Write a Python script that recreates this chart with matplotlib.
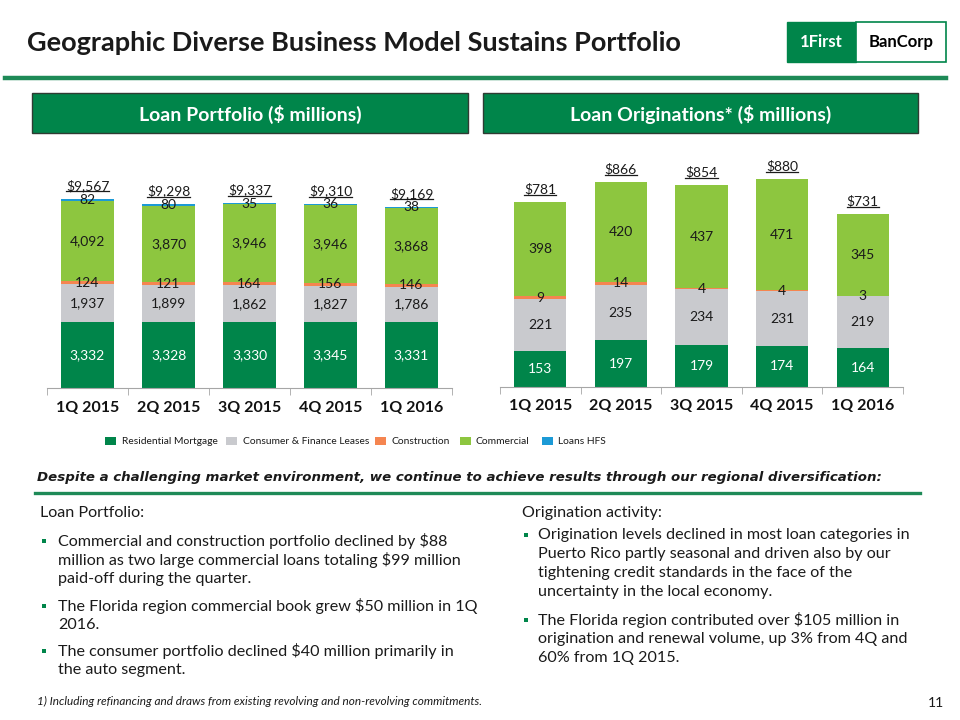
import matplotlib
matplotlib.use("Agg")
import matplotlib.pyplot as plt
from matplotlib.patches import Rectangle
from matplotlib.lines import Line2D

# ---------------- data ----------------
quarters = ["1Q 2015", "2Q 2015", "3Q 2015", "4Q 2015", "1Q 2016"]
series_names = ["Residential Mortgage", "Consumer & Finance Leases", "Construction", "Commercial", "Loans HFS"]

portfolio_residential = [3332, 3328, 3330, 3345, 3331]
portfolio_consumer = [1937, 1899, 1862, 1827, 1786]
portfolio_construction = [124, 121, 164, 156, 146]
portfolio_commercial = [4092, 3870, 3946, 3946, 3868]
portfolio_hfs = [82, 80, 35, 36, 38]

orig_residential = [153, 197, 179, 174, 164]
orig_consumer = [221, 235, 234, 231, 219]
orig_construction = [9, 14, 4, 4, 3]
orig_commercial = [398, 420, 437, 471, 345]

colors = ["#00854A", "#C9CACE", "#F58550", "#8DC63F", "#1C9AD6"]
GREEN = "#00854A"

W, H = 960, 720
fig = plt.figure(figsize=(9.6, 7.2), dpi=100)
fig.patch.set_facecolor("white")

BODY = ["Lato", "DejaVu Sans"]
DV = ["DejaVu Sans"]


def fx(x):
    return x / W


def fy(y):
    return 1 - y / H


def ptext(x, y, s, **kw):
    return fig.text(fx(x), fy(y), s, **kw)


# ---------------- header ----------------
ptext(27, 43, "Geographic Diverse Business Model Sustains Portfolio", fontsize=19.5,
      fontweight="bold", color="#1A1A1A", va="center", ha="left", family=BODY)
fig.add_artist(Line2D([fx(5), fx(946)], [fy(78), fy(78)], color="#1E8A57", lw=3.2,
                      transform=fig.transFigure))
# logo
fig.add_artist(Rectangle((fx(787), fy(62)), fx(856) - fx(787), fy(22) - fy(62),
                         transform=fig.transFigure, facecolor=GREEN, edgecolor=GREEN, lw=1))
fig.add_artist(Rectangle((fx(856), fy(62)), fx(946) - fx(856), fy(22) - fy(62),
                         transform=fig.transFigure, facecolor="white", edgecolor=GREEN, lw=1.2))
ptext(821, 42, "1First", fontsize=12, fontweight="bold", color="white", ha="center",
      va="center", family=BODY)
ptext(901, 42, "BanCorp", fontsize=12, fontweight="bold", color="black", ha="center",
      va="center", family=BODY)

# section boxes
for (x0, x1, label) in [(32, 468, "Loan Portfolio ($ millions)"),
                        (483, 918, "Loan Originations* ($ millions)")]:
    fig.add_artist(Rectangle((fx(x0), fy(133)), fx(x1) - fx(x0), fy(93) - fy(133),
                             transform=fig.transFigure, facecolor=GREEN,
                             edgecolor="#2F3B33", lw=1.0))
    ptext((x0 + x1) / 2, 114, label, fontsize=14, fontweight="bold", color="white",
          ha="center", va="center", family=BODY)


# ---------------- charts ----------------
def make_axes(x0, x1, ybase, ytop):
    return fig.add_axes([fx(x0), fy(ybase), fx(x1) - fx(x0), fy(ytop) - fy(ybase)])


def stacked(ax, stacks, ymax, label_colors):
    xs = list(range(len(quarters)))
    bottoms = [0] * len(quarters)
    for i, vals in enumerate(stacks):
        bars = ax.bar(xs, vals, width=0.65, bottom=bottoms, color=colors[i], linewidth=0)
        for b, v, bt in zip(bars, vals, bottoms):
            ax.text(b.get_x() + b.get_width() / 2, bt + v / 2, f"{v:,}",
                    ha="center", va="center", fontsize=10, color=label_colors[i],
                    family=BODY)
        bottoms = [a + b for a, b in zip(bottoms, vals)]
    totals_txt = []
    for x, t in zip(xs, bottoms):
        tt = ax.annotate(f"${t:,}", (x, t), xytext=(0, 5), textcoords="offset points",
                         ha="center", va="bottom", fontsize=10, family=BODY, color="#1A1A1A")
        totals_txt.append(tt)
    ax.set_xlim(-0.5, len(quarters) - 0.5)
    ax.set_ylim(0, ymax)
    for s in ["top", "right", "left"]:
        ax.spines[s].set_visible(False)
    ax.spines["bottom"].set_color("#A6A6A6")
    ax.set_yticks([])
    ax.set_xticks(xs)
    ax.set_xticklabels(quarters, fontsize=11.5, fontweight="bold", family=BODY, color="#111111")
    ax.tick_params(axis="x", which="major", length=0, pad=9)
    ax.set_xticks([x - 0.5 for x in range(len(quarters) + 1)], minor=True)
    ax.tick_params(axis="x", which="minor", length=5, color="#A6A6A6")
    ax.patch.set_alpha(0)
    return totals_txt


ax1 = make_axes(47, 452, 388, 160)
t1 = stacked(ax1, [portfolio_residential, portfolio_consumer, portfolio_construction,
                   portfolio_commercial, portfolio_hfs],
             228 * 50.6, ["white", "#1A1A1A", "#1A1A1A", "#1A1A1A", "#1A1A1A"])

ax2 = make_axes(500, 903, 387, 159)
t2 = stacked(ax2, [orig_residential, orig_consumer, orig_construction, orig_commercial],
             228 * 4.23, ["white", "#1A1A1A", "#1A1A1A", "#1A1A1A"])

# ---------------- legend ----------------
leg_pos = [(105, 122), (226, 243), (375, 391), (460, 476), (542, 558)]
for (sx, tx), name, c in zip(leg_pos, series_names, colors):
    fig.add_artist(Rectangle((fx(sx), fy(445)), fx(11), fy(437) - fy(445),
                             transform=fig.transFigure, facecolor=c, edgecolor="none"))
    ptext(tx, 441, name, fontsize=7.4, color="#1A1A1A", ha="left", va="center", family=BODY)

# ---------------- commentary ----------------
ptext(37, 477, "Despite a challenging market environment, we continue to achieve results through our regional diversification:",
      fontsize=9.6, fontweight="bold", style="italic", color="#1A1A1A", ha="left",
      va="center", family=DV)
fig.add_artist(Line2D([fx(35), fx(920)], [fy(493), fy(493)], color="#1E8A57", lw=2.4,
                      transform=fig.transFigure))

left_lines = [
    (513, False, "Loan Portfolio:"),
    (541, True, "Commercial and construction portfolio declined by $88"),
    (560, False, "million as two large commercial loans totaling $99 million"),
    (579, False, "paid-off during the quarter."),
    (606, True, "The Florida region commercial book grew $50 million in 1Q"),
    (625, False, "2016."),
    (651, True, "The consumer portfolio declined $40 million primarily in"),
    (670, False, "the auto segment."),
]
for y, bullet, s in left_lines:
    if s.endswith(":"):
        ptext(40, y, s, fontsize=11.6, color="#1A1A1A", ha="left", va="center", family=BODY)
        continue
    if bullet:
        fig.add_artist(Rectangle((fx(42), fy(y + 2)), fx(4), fy(y - 2) - fy(y + 2),
                                 transform=fig.transFigure, facecolor=GREEN, edgecolor="none"))
    ptext(58, y, s, fontsize=11.6, color="#1A1A1A", ha="left", va="center", family=BODY)

right_lines = [
    (513, False, "Origination activity:"),
    (535, True, "Origination levels declined in most loan categories in"),
    (554, False, "Puerto Rico partly seasonal and driven also by our"),
    (573, False, "tightening credit standards in the face of the"),
    (592, False, "uncertainty in the local economy."),
    (620, True, "The Florida region contributed over $105 million in"),
    (639, False, "origination and renewal volume, up 3% from 4Q and"),
    (658, False, "60% from 1Q 2015."),
]
for y, bullet, s in right_lines:
    if s.endswith(":"):
        ptext(522, y, s, fontsize=11.6, color="#1A1A1A", ha="left", va="center", family=BODY)
        continue
    if bullet:
        fig.add_artist(Rectangle((fx(524), fy(y + 2)), fx(4), fy(y - 2) - fy(y + 2),
                                 transform=fig.transFigure, facecolor=GREEN, edgecolor="none"))
    ptext(538, y, s, fontsize=11.6, color="#1A1A1A", ha="left", va="center", family=BODY)

ptext(37, 701, "1) Including refinancing and draws from existing revolving and non-revolving commitments.",
      fontsize=8.5, style="italic", color="#1A1A1A", ha="left", va="center", family=BODY)
ptext(944, 703, "11", fontsize=10, color="#1A1A1A", ha="right", va="center", family=BODY)

# ---------------- underline totals ----------------
fig.canvas.draw()
r = fig.canvas.get_renderer()
for t in t1 + t2:
    bb = t.get_window_extent(renderer=r)
    y = bb.y0 + 0.5
    fig.add_artist(Line2D([bb.x0 / W, bb.x1 / W], [y / H, y / H], color="#1A1A1A", lw=0.9,
                          transform=fig.transFigure))

fig.savefig("out.png", dpi=100)
